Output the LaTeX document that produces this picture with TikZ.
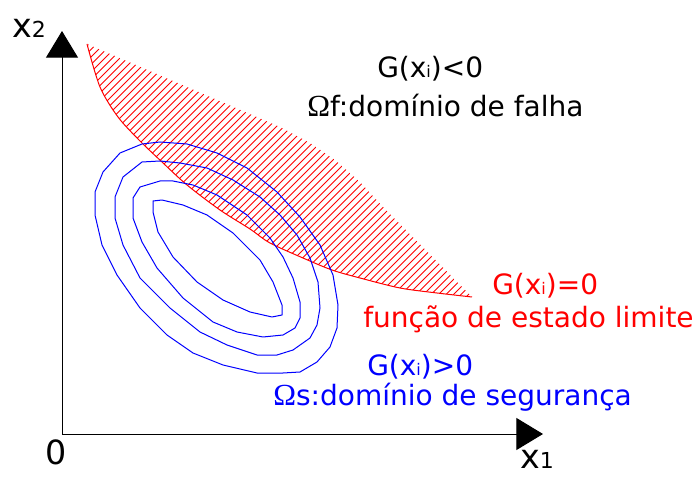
\documentclass[tikz,border=0pt]{standalone}
\usepackage{fontspec}
\setmainfont{DejaVu Sans}
\newfontfamily\omegafont{Liberation Serif}
\usepackage{tikz}
\usetikzlibrary{arrows.meta}
\definecolor{failred}{RGB}{255,0,0}
\definecolor{safeblue}{RGB}{0,0,255}
\newcommand{\idx}[1]{{\fontsize{12}{14}\selectfont #1}}
\newcommand{\axidx}[1]{{\fontsize{16.5}{19}\selectfont #1}}
\newcommand{\omg}{{\omegafont\fontsize{23}{26}\selectfont Ω}}
\tikzset{
  axisline/.style={draw=black,line width=0.75pt,-{Triangle[length=20pt,width=24pt]}},
  contour/.style={draw=safeblue,line width=0.75pt,line join=round},
  limitline/.style={draw=failred,line width=0.75pt},
  hatchline/.style={draw=failred,line width=0.7pt},
  regiontext/.style={anchor=base west,inner sep=0pt,font=\fontsize{21}{25}\selectfont},
  axislabel/.style={anchor=base west,inner sep=0pt,font=\fontsize{25}{30}\selectfont},
}
\begin{document}
\begin{tikzpicture}[x=0.75pt,y=-0.75pt]
  \useasboundingbox (0,0) rectangle (696,477);

  % Failure domain (hatched)
  \begin{scope}
    \clip (87,44) -- (280,127) -- (310,143) -- (335,160) -- (360,182) -- (383,207) -- (472,297)
      -- plot[smooth] coordinates {(472,297) (437,293) (400,288) (360,278) (332,270) (303,258)
        (270,243) (250,229) (220,210) (187,185) (162,162) (140,141) (118,117) (100,87) (87,44)} -- cycle;
    \foreach \c in {133,140.5,...,775}
      \draw[hatchline] (\c-450,450) -- (\c,0);
  \end{scope}
  % Limit state curve
  \draw[limitline] plot[smooth] coordinates {(87,44) (100,87) (118,117) (140,141) (162,162)
    (187,185) (220,210) (250,229) (270,243) (303,258) (332,270) (360,278) (400,288) (437,293) (472,297)};

  % Contours of the joint density
  \draw[contour] (142,144) -- (160,142) -- (187,144) -- (217,153) -- (247,168) -- (277,192)
    -- (300,217) -- (320,245) -- (333,275) -- (338,305) -- (337,328) -- (330,347) -- (317,362)
    -- (300,372) -- (283,373) -- (257,373) -- (223,365) -- (193,353) -- (167,335) -- (140,308)
    -- (117,275) -- (102,245) -- (95,215) -- (95,192) -- (103,172) -- (120,153) -- cycle;
  \draw[contour] (142,162) -- (160,161) -- (180,163) -- (207,168) -- (233,180) -- (260,197)
    -- (280,215) -- (297,235) -- (310,258) -- (318,282) -- (320,308) -- (317,325) -- (310,338)
    -- (293,350) -- (277,355) -- (257,355) -- (227,345) -- (200,332) -- (170,308) -- (140,278)
    -- (123,245) -- (115,218) -- (115,197) -- (123,177) -- cycle;
  \draw[contour] (140,187) -- (160,181) -- (173,181) -- (193,185) -- (217,195) -- (247,215)
    -- (270,238) -- (283,257) -- (293,278) -- (300,302) -- (300,318) -- (295,328) -- (283,335)
    -- (263,337) -- (237,332) -- (213,322) -- (183,298) -- (157,268) -- (142,242) -- (133,218)
    -- (133,198) -- cycle;
  \draw[contour] (153,201) -- (162,200) -- (183,205) -- (207,215) -- (233,233) -- (260,260)
    -- (273,282) -- (282,305) -- (282,315) -- (272,317) -- (250,312) -- (223,300) -- (197,282)
    -- (173,257) -- (158,232) -- (153,212) -- cycle;

  % Axes
  \coordinate (O) at (62,434);
  \coordinate (x2tip) at (62,31);
  \coordinate (x1tip) at (543,434);
  \draw[axisline] (O) -- (x2tip);
  \draw[axisline] (O) -- (x1tip);
  \node[axislabel] (x2label) at (12,38) {x\axidx{2}};
  \node[axislabel] (origin) at (45,464) {0};
  \node[axislabel] (x1label) at (520,468) {x\axidx{1}};

  % Region labels
  \node[regiontext] (failcond) at (377,78) {G(x\idx{i})<0};
  \node[regiontext] (faildom) at (307,117) {\omg f:domínio de falha};
  \node[regiontext,text=failred] (limitcond) at (492,295) {G(x\idx{i})=0};
  \node[regiontext,text=failred] (limitname) at (363,327) {função de estado limite};
  \node[regiontext,text=safeblue] (safecond) at (367,375) {G(x\idx{i})>0};
  \node[regiontext,text=safeblue] (safedom) at (273,405) {\omg s:domínio de segurança};
\end{tikzpicture}
\end{document}
